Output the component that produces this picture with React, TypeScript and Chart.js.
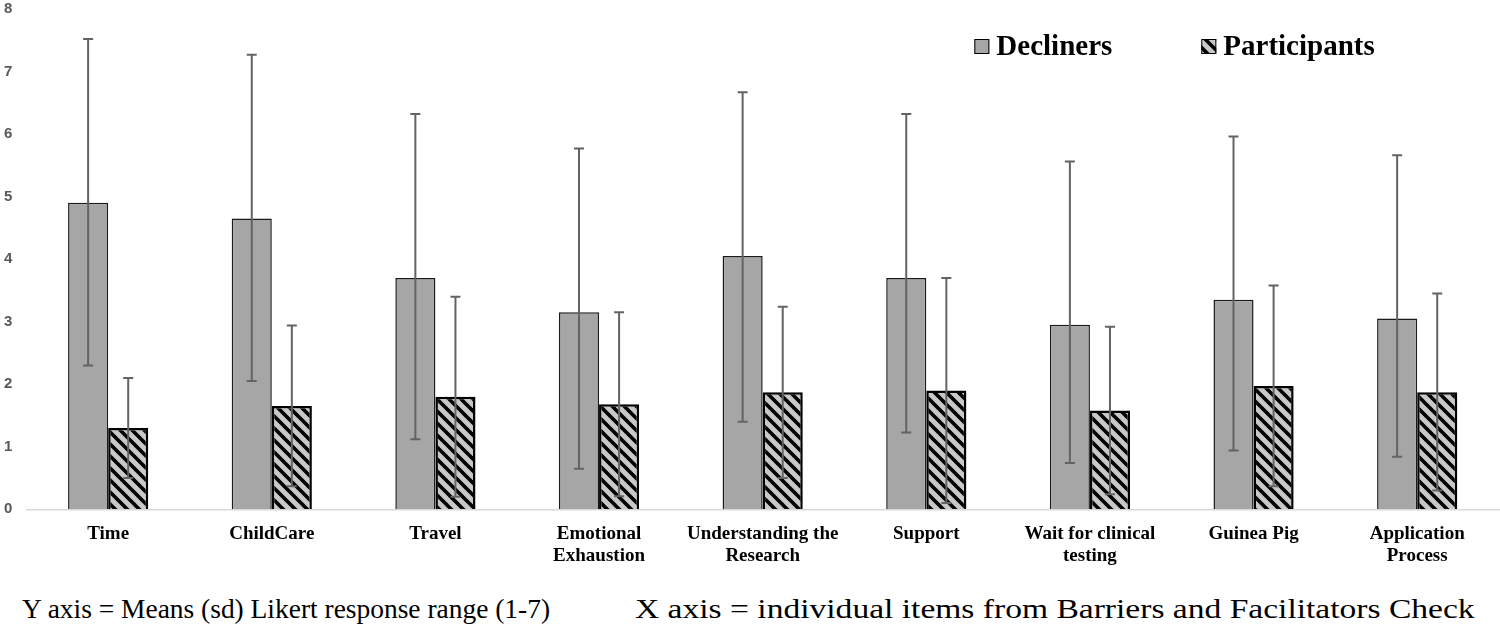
import React, { useEffect, useRef } from 'react';
import { Chart, registerables } from 'chart.js';

Chart.register(...registerables);

const categories: (string | string[])[] = [
  'Time',
  'ChildCare',
  'Travel',
  ['Emotional', 'Exhaustion'],
  ['Understanding the', 'Research'],
  'Support',
  ['Wait for clinical', 'testing'],
  'Guinea Pig',
  ['Application', 'Process'],
];

const declinerMeans = [4.9, 4.65, 3.7, 3.15, 4.05, 3.7, 2.95, 3.35, 3.05];
const declinerHigh = [7.52, 7.27, 6.32, 5.77, 6.67, 6.32, 5.56, 5.96, 5.66];
const declinerLow = [2.3, 2.05, 1.12, 0.65, 1.4, 1.23, 0.74, 0.94, 0.84];

const participantMeans = [1.3, 1.65, 1.8, 1.68, 1.87, 1.9, 1.58, 1.97, 1.87];
const participantHigh = [2.1, 2.94, 3.4, 3.15, 3.24, 3.7, 2.92, 3.58, 3.45];
const participantLow = [0.5, 0.37, 0.2, 0.21, 0.5, 0.1, 0.24, 0.37, 0.3];

const yTicks = [0, 1, 2, 3, 4, 5, 6, 7, 8];

const captionY = 'Y axis = Means (sd) Likert response range (1-7)';
const captionX = 'X axis = individual items from Barriers and Facilitators Check';

function makeHatch(): CanvasPattern | string {
  const s = 12;
  const c = document.createElement('canvas');
  c.width = s;
  c.height = s;
  const g = c.getContext('2d');
  if (!g) return '#c8c8c8';
  g.fillStyle = '#c8c8c8';
  g.fillRect(0, 0, s, s);
  g.strokeStyle = '#000000';
  g.lineWidth = 3.6;
  g.beginPath();
  for (const k of [-s, 0, s]) {
    g.moveTo(k - 3, -3);
    g.lineTo(k + s + 3, s + 3);
  }
  g.stroke();
  return g.createPattern(c, 'repeat') || '#c8c8c8';
}

const errorBarPlugin = {
  id: 'errorBars',
  afterDatasetsDraw(chart: any) {
    const { ctx } = chart;
    const y = chart.scales.y;
    chart.data.datasets.forEach((ds: any, i: number) => {
      const meta = chart.getDatasetMeta(i);
      meta.data.forEach((bar: any, j: number) => {
        const x = bar.x;
        const top = y.getPixelForValue(ds.errorHigh[j]);
        const bot = y.getPixelForValue(ds.errorLow[j]);
        ctx.save();
        ctx.strokeStyle = '#636363';
        ctx.lineWidth = 2;
        ctx.beginPath();
        ctx.moveTo(x, top);
        ctx.lineTo(x, bot);
        ctx.moveTo(x - 5, top);
        ctx.lineTo(x + 5, top);
        ctx.moveTo(x - 5, bot);
        ctx.lineTo(x + 5, bot);
        ctx.stroke();
        ctx.restore();
      });
    });
  },
};

const insideLegendPlugin = {
  id: 'insideLegend',
  afterDraw(chart: any, _args: any, opts: any) {
    const { ctx, chartArea } = chart;
    let x = chartArea.left + opts.offsetX;
    const yc = chartArea.top + opts.offsetY;
    ctx.save();
    ctx.font = opts.font;
    ctx.textBaseline = 'middle';
    ctx.textAlign = 'left';
    chart.data.datasets.forEach((ds: any) => {
      const b = opts.boxSize;
      ctx.fillStyle = ds.backgroundColor;
      ctx.fillRect(x, yc - b / 2, b, b);
      ctx.lineWidth = 1;
      ctx.strokeStyle = '#000000';
      ctx.strokeRect(x + 0.5, yc - b / 2 + 0.5, b - 1, b - 1);
      ctx.fillStyle = '#000000';
      ctx.fillText(ds.label, x + b + opts.textGap, yc + 1);
      x += b + opts.textGap + ctx.measureText(ds.label).width + opts.itemGap;
    });
    ctx.restore();
  },
};

const captionStyle: React.CSSProperties = {
  position: 'absolute',
  top: 593,
  fontFamily: '"Liberation Serif", "Times New Roman", serif',
  fontSize: 28,
  lineHeight: '32px',
  color: '#000000',
  whiteSpace: 'pre',
  transformOrigin: 'left center',
};

export default function App() {
  const canvasRef = useRef<HTMLCanvasElement | null>(null);

  useEffect(() => {
    if (!canvasRef.current) return;
    const hatch = makeHatch();
    const chart = new Chart(canvasRef.current, {
      type: 'bar',
      data: {
        labels: categories,
        datasets: [
          {
            label: 'Decliners',
            data: declinerMeans,
            backgroundColor: '#a6a6a6',
            borderColor: '#1a1a1a',
            borderWidth: 1.5,
            errorHigh: declinerHigh,
            errorLow: declinerLow,
          } as any,
          {
            label: 'Participants',
            data: participantMeans,
            backgroundColor: hatch as any,
            borderColor: '#000000',
            borderWidth: 2.5,
            errorHigh: participantHigh,
            errorLow: participantLow,
          } as any,
        ],
      },
      options: {
        animation: false,
        responsive: false,
        layout: { padding: { left: -10, right: 1, top: 0, bottom: 0 } },
        datasets: {
          bar: { barPercentage: 1, categoryPercentage: 0.49 },
        },
        scales: {
          x: {
            grid: { display: false, drawTicks: false, tickLength: 0 },
            border: { display: true, color: '#d9d9d9', width: 1.5 },
            ticks: {
              autoSkip: false,
              maxRotation: 0,
              padding: 14,
              color: '#000000',
              font: { family: '"Liberation Serif", "Times New Roman", serif', weight: 'bold', size: 19, lineHeight: 1.15 },
            },
          },
          y: {
            min: 0,
            max: 8,
            grid: { display: false, drawTicks: false, tickLength: 0 },
            border: { display: false },
            afterBuildTicks: (axis: any) => {
              axis.ticks = yTicks.map((v) => ({ value: v }));
            },
            ticks: {
              padding: 14,
              color: '#595959',
              font: { family: '"Liberation Sans", Arial, sans-serif', weight: 'bold', size: 15 },
            },
          },
        },
        plugins: {
          legend: { display: false },
          tooltip: { enabled: false },
          insideLegend: {
            offsetX: 948,
            offsetY: 37.5,
            boxSize: 15,
            textGap: 7,
            itemGap: 89,
            font: 'bold 29px "Liberation Serif", "Times New Roman", serif',
          },
        } as any,
      },
      plugins: [errorBarPlugin, insideLegendPlugin],
    });
    return () => chart.destroy();
  }, []);

  return (
    <div style={{ position: 'absolute', left: 0, top: 0, width: 1500, height: 629, background: '#ffffff', overflow: 'hidden' }}>
      <canvas ref={canvasRef} width={1500} height={595} style={{ display: 'block', marginTop: -14 }} />
      <div style={{ ...captionStyle, left: 22, transform: 'scaleX(0.98)' }}>{captionY}</div>
      <div style={{ ...captionStyle, left: 635, transform: 'scaleX(1.198)' }}>{captionX}</div>
    </div>
  );
}
